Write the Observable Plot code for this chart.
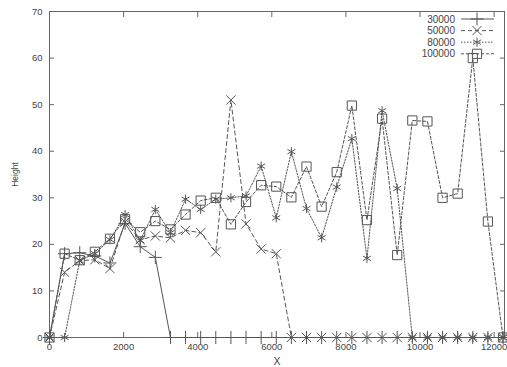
<!DOCTYPE html>
<html><head><meta charset="utf-8">
<script src="https://cdn.jsdelivr.net/npm/d3@7"></script>
<script src="https://cdn.jsdelivr.net/npm/@observablehq/plot@0.6"></script>
<style>body{margin:0;background:#fff}</style>
</head><body><div id="chart"></div>
<script>
const xValues = [0,408,816,1224,1632,2040,2448,2856,3264,3672,4080,4488,4896,5304,5712,6120,6528,6936,7344,7752,8160,8568,8976,9384,9792,10200,10608,11016,11424,11832,12240];
const seriesNames = ["30000","50000","80000","100000"];
const h30000 = [0,18,18.2,17.5,16,24.5,19.5,17.2,0,0,0,0,0,0,0,0,0,0,0,0,0,0,0,0,0,0,0,0,0,0,0];
const h50000 = [0,14,16.5,16.7,14.8,24.8,21,21.8,21.4,23,22.5,18.4,51,24.4,19,18,0,0,0,0,0,0,0,0,0,0,0,0,0,0,0];
const h80000 = [0,0,16.5,18,21,26.4,20.8,27.5,22.5,29.7,27.5,29.7,30,30.4,36.8,25.7,39.9,27.7,21.4,32.3,42.7,17,48.7,32,0,0,0,0,0,0,0];
const h100000 = [0,18,16.6,18.4,21.2,25.4,22.6,25,23.2,26.4,29.4,30,24.3,29.1,32.7,32.4,30.1,36.7,28.1,35.5,49.8,25.2,47,17.7,46.6,46.4,30,30.9,60,24.9,0];
const xTicks = [0,2000,4000,6000,8000,10000,12000];
const yTicks = [0,10,20,30,40,50,60,70];

const seriesValues = [h30000,h50000,h80000,h100000];
const symbols = ["plus","times","asterisk","square"];
const dashes = [null,"4,3","1.5,1.5","3,2"];
const radii = [4.3,4.3,4.3,5.2];
const ink = "#555";
const fmt = d3.format("d");

const marks = [
  Plot.frame({stroke:"#666"}),
  Plot.axisX({ticks:xTicks, tickFormat:fmt, tickSize:-5, tickPadding:11, stroke:"#666", fontSize:9.5, label:null}),
  Plot.axisX({ticks:[], label:"X", labelAnchor:"center", labelArrow:"none", labelOffset:27, fontSize:10.5}),
  Plot.axisX({anchor:"top", ticks:xTicks, tickSize:-5, tickFormat:()=>"", label:null, stroke:"#666"}),
  Plot.axisY({ticks:yTicks, tickFormat:fmt, tickSize:-5, tickPadding:12, stroke:"#666", fontSize:9.5, label:null}),
  Plot.axisY({ticks:[], label:"Height", labelAnchor:"center", labelArrow:"none", labelOffset:38, fontSize:8.5}),
  Plot.axisY({anchor:"right", ticks:yTicks, tickSize:-5, tickFormat:()=>"", label:null, stroke:"#666"})
];
seriesNames.forEach((name,i)=>{
  const rows = xValues.map((x,j)=>({x, y:seriesValues[i][j], s:name}));
  marks.push(Plot.line(rows,{x:"x",y:"y",stroke:ink,strokeWidth:1,strokeDasharray:dashes[i]}));
  marks.push(Plot.dot(rows,{x:"x",y:"y",symbol:()=>symbols[i],r:radii[i],stroke:ink,fill:"none",strokeWidth:1}));
});

const chart = Plot.plot({
  width:507, height:367,
  marginLeft:49, marginRight:3, marginTop:11, marginBottom:30,
  x:{domain:[0,12280]},
  y:{domain:[0,70]},
  symbol:{type:"identity"},
  style:{fontFamily:"'Liberation Sans', Arial, sans-serif", fontSize:"10px", color:"#444", background:"#fff", overflow:"visible"},
  marks
});
document.getElementById("chart").appendChild(chart);

// legend (inside the plot, top right)
const svg = d3.select(chart.tagName.toLowerCase()==="svg" ? chart : chart.querySelector("svg"));
const symMap = {plus:d3.symbolPlus, times:d3.symbolTimes, asterisk:d3.symbolAsterisk, square:d3.symbolSquare};
const lg = svg.append("g").attr("font-family","'Liberation Sans', Arial, sans-serif").attr("font-size","10px").attr("fill","#444");
seriesNames.forEach((name,i)=>{
  const y = 19 + i*11.6;
  lg.append("text").attr("x",455).attr("y",y).attr("dy","0.35em").attr("text-anchor","end").text(name);
  lg.append("line").attr("x1",461).attr("x2",494).attr("y1",y).attr("y2",y).attr("stroke",ink).attr("stroke-dasharray",dashes[i]);
  lg.append("path").attr("transform",`translate(477,${y})`).attr("d",d3.symbol(symMap[symbols[i]], Math.PI*radii[i]*radii[i])()).attr("fill","none").attr("stroke",ink);
});
</script>
</body></html>
